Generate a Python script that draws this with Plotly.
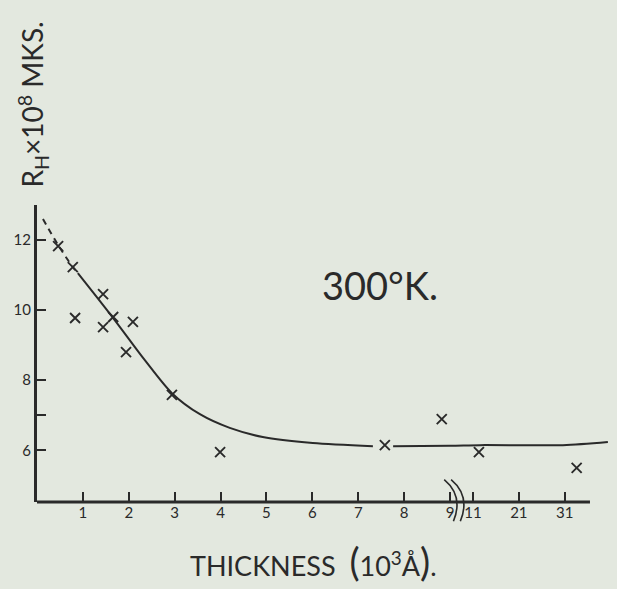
import plotly.graph_objects as go

# Hall coefficient of films vs. thickness at 300 K
THICKNESS = [0.46, 0.78, 1.44, 0.83, 1.44, 1.66, 2.09, 1.94, 2.94, 3.99, 7.58, 8.82, 12.3, 33.6]
R_HALL = [11.82, 11.22, 10.45, 9.77, 9.51, 9.80, 9.66, 8.80, 7.58, 5.95, 6.15, 6.89, 5.95, 5.50]

# hand-fitted curve: dashed start, solid body, flat tail after the mark at 7.6
FIT_DASH_T = [0.13, 0.46, 0.78, 0.89]
FIT_DASH_R = [12.59, 11.85, 11.22, 11.05]
FIT_T = [0.89, 1.66, 2.35, 2.94, 3.55, 4.20, 4.92, 6.01, 7.32]
FIT_R = [11.05, 9.77, 8.57, 7.63, 7.03, 6.64, 6.38, 6.21, 6.12]
FIT_TAIL_T = [7.76, 9.0, 12.5, 30.6, 40.4]
FIT_TAIL_R = [6.12, 6.13, 6.15, 6.15, 6.24]

X_TICKS = [1, 2, 3, 4, 5, 6, 7, 8, 9, 11, 21, 31]
Y_TICKS = [6, 7, 8, 10, 12]
Y_TICK_TEXT = ["6", "", "8", "10", "12"]

X_AXIS_END = 36.5
X_RANGE = [0, 12.53]
Y_RANGE = [4.53, 12.99]

INK = "#2a2a2a"
PAPER = "#e3e8df"
FONT = "Lato"


def axis_pos(t):
    """Broken thickness scale: linear to 9, squeezed gap to 11, then 10 units per step."""
    if t <= 9:
        return t
    if t <= 11:
        return 9 + (t - 9) * 0.25
    return 9.5 + (t - 11) / 10.0


def to_pos(values):
    return [axis_pos(v) for v in values]


def xpaper(t):
    return (axis_pos(t) - X_RANGE[0]) / (X_RANGE[1] - X_RANGE[0])


fig = go.Figure()

line_style = dict(color=INK, width=2, shape="spline", smoothing=0.8)
fig.add_trace(go.Scatter(x=to_pos(FIT_DASH_T), y=FIT_DASH_R, mode="lines",
                         line=dict(line_style, dash="6px,5px"), hoverinfo="skip"))
fig.add_trace(go.Scatter(x=to_pos(FIT_T), y=FIT_R, mode="lines",
                         line=line_style, hoverinfo="skip"))
fig.add_trace(go.Scatter(x=to_pos(FIT_TAIL_T), y=FIT_TAIL_R, mode="lines",
                         line=line_style, hoverinfo="skip"))
fig.add_trace(go.Scatter(x=to_pos(THICKNESS), y=R_HALL, mode="markers",
                         marker=dict(symbol="x-thin", size=10,
                                     line=dict(color=INK, width=1.9)),
                         cliponaxis=False))

# x axis line (stops short of the curve's end) and the break marks between 9 and 11
fig.add_shape(type="line", xref="paper", yref="paper", x0=0, x1=xpaper(X_AXIS_END),
              y0=0, y1=0, line=dict(color=INK, width=3), layer="above")
mid = (xpaper(9) + xpaper(11)) / 2 - 0.012
for dx in (-0.006, 0.006):
    cx = mid + dx
    fig.add_shape(type="path", xref="paper", yref="paper",
                  path=f"M {cx - 0.012},0.075 Q {cx + 0.022},0.02 {cx + 0.004},-0.065",
                  line=dict(color=INK, width=1.6), layer="above")

fig.add_annotation(xref="paper", yref="paper", x=-0.006, y=1.337,
                   text="R<sub>H</sub>×10<sup>8</sup> MKS.", textangle=-90,
                   showarrow=False, xanchor="center", yanchor="middle",
                   font=dict(family=FONT, size=28, color=INK))
fig.add_annotation(xref="paper", yref="paper", x=0.597, y=0.731,
                   text="300°K.", showarrow=False, xanchor="center", yanchor="middle",
                   font=dict(family=FONT, size=38, color=INK))
fig.add_annotation(xref="paper", yref="paper", x=0.48, y=-0.2,
                   text='THICKNESS  <span style="font-size:38px">(</span>10<sup>3</sup>Å'
                        '<span style="font-size:38px">)</span>.',
                   showarrow=False, xanchor="center", yanchor="middle",
                   font=dict(family=FONT, size=27, color=INK))

fig.update_layout(
    width=617, height=589,
    margin=dict(l=37, r=5, t=205, b=87),
    paper_bgcolor=PAPER, plot_bgcolor=PAPER,
    showlegend=False,
    font=dict(family=FONT, color=INK, size=15),
)
fig.update_xaxes(range=X_RANGE, showgrid=False, zeroline=False, showline=False,
                 tickmode="array", tickvals=to_pos(X_TICKS),
                 ticktext=[str(v) for v in X_TICKS],
                 ticks="inside", ticklen=10, tickwidth=2, tickcolor=INK,
                 tickfont=dict(family=FONT, size=15, color=INK))
fig.update_yaxes(range=Y_RANGE, showgrid=False, zeroline=False, showline=True,
                 linecolor=INK, linewidth=3,
                 tickmode="array", tickvals=Y_TICKS, ticktext=Y_TICK_TEXT,
                 ticks="inside", ticklen=9, tickwidth=2, tickcolor=INK,
                 tickfont=dict(family=FONT, size=15, color=INK))

fig.write_html("out.html")
